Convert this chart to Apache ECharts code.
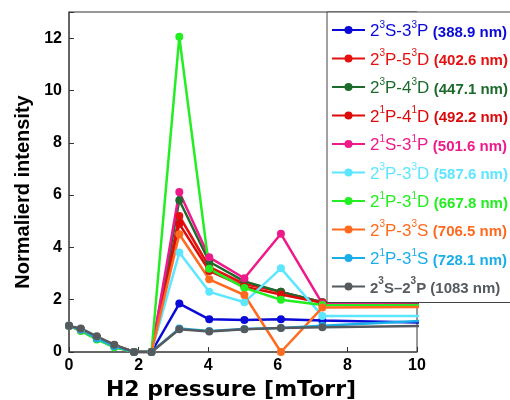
<!DOCTYPE html>
<html><head><meta charset="utf-8">
<script src="https://cdn.jsdelivr.net/npm/echarts@6/dist/echarts.min.js"></script>
<style>html,body{margin:0;padding:0;background:#fff}#c{width:510px;height:400px}</style>
</head><body><div id="c"></div>
<script>
const pressure = [0, 0.34, 0.8, 1.3, 1.87, 2.37, 3.17, 4.03, 5.04, 6.09, 7.28, 10.5];
const s3889 = [1, 0.85, 0.55, 0.25, 0, 0, 1.85, 1.25, 1.22, 1.25, 1.2, 1.12];
const s4026 = [1, 0.85, 0.55, 0.25, 0, 0, 5.2, 3.25, 2.6, 2.3, 1.9, 1.8];
const s4471 = [1, 0.85, 0.55, 0.25, 0, 0, 5.8, 3.45, 2.7, 2.3, 1.9, 1.82];
const s4922 = [1, 0.85, 0.55, 0.25, 0, 0, 4.9, 3.1, 2.5, 2.2, 1.88, 1.78];
const s5016 = [1, 0.82, 0.5, 0.2, 0, 0, 6.12, 3.62, 2.82, 4.52, 1.85, 1.8];
const s5876 = [1, 0.85, 0.5, 0.22, 0, 0, 3.8, 2.3, 1.9, 3.2, 1.38, 1.38];
const s6678 = [1, 0.8, 0.48, 0.18, 0, 0, 12.05, 3.18, 2.45, 2.0, 1.8, 1.78];
const s7065 = [1, 0.85, 0.55, 0.25, 0, 0, 4.5, 2.78, 2.18, 0, 1.7, 1.72];
const s7281 = [1, 0.85, 0.52, 0.22, 0, 0, 0.9, 0.8, 0.88, 0.92, 1.0, 1.22];
const s1083 = [1, 0.9, 0.6, 0.28, 0, 0, 0.87, 0.78, 0.87, 0.92, 0.95, 1.0];

const names = ['388.9','402.6','447.1','492.2','501.6','587.6','667.8','706.5','728.1','1083'];
// [sup1, letter1, n2, sup2, letter2]
const terms = [['3','S','3','3','P'],['3','P','5','3','D'],['3','P','4','3','D'],['1','P','4','1','D'],['1','S','3','1','P'],['3','P','3','3','D'],['1','P','3','1','D'],['3','P','3','3','S'],['1','P','3','1','S'],['3','S','2','3','P']];
const colors = ['#0a0ad8','#e51010','#1c6b2c','#dd0a0a','#ee1a8a','#5ce6ff','#22ee22','#ff6a1f','#1aaee8','#555a5f'];
const values = [s3889,s4026,s4471,s4922,s5016,s5876,s6678,s7065,s7281,s1083];

const series = names.map((n,i)=>({
  name:n, type:'line', clip:true,
  data: pressure.map((x,j)=>[x, values[i][j]]),
  symbol:'circle', symbolSize:8,
  lineStyle:{width:2.5,color:colors[i]}, itemStyle:{color:colors[i]}
}));

const chart = echarts.init(document.getElementById('c'));
chart.setOption({
  animation:false,
  textStyle:{fontFamily:'Liberation Sans'},
  grid:{left:69,right:93,top:12,bottom:48,show:true,borderColor:'#333',borderWidth:1,
    containLabel:false,outerBoundsMode:'none'},
  xAxis:{type:'value',min:0,max:10,interval:2,
    name:'H2 pressure [mTorr]',nameLocation:'middle',nameGap:23,
    nameTextStyle:{fontSize:22,fontWeight:'bold',color:'#000',fontFamily:'DejaVu Sans',padding:[0,24,0,0]},
    axisLine:{lineStyle:{color:'#555',width:1.5}},
    axisTick:{inside:true,length:5,lineStyle:{color:'#333'}},
    axisLabel:{fontSize:16,fontWeight:'bold',color:'#000',margin:6},
    splitLine:{show:false}},
  yAxis:{type:'value',min:0,max:13,interval:2,
    name:'Normalierd intensity',nameLocation:'middle',nameGap:29,
    nameTextStyle:{fontSize:20,fontWeight:'bold',color:'#000',padding:[0,20,0,0]},
    axisLine:{show:true,lineStyle:{color:'#555',width:1.5}},
    axisTick:{show:true,inside:true,length:5,lineStyle:{color:'#333'}},
    axisLabel:{fontSize:16,fontWeight:'bold',color:'#000',margin:7,
      formatter:v=> v>12 ? '' : v},
    splitLine:{show:false}},
  legend:{orient:'vertical',left:327,top:12,itemGap:8.5,itemWidth:33,itemHeight:10,
    padding:[8,60,6,4],borderColor:'#444',borderWidth:1,backgroundColor:'#fff',
    data:names.map((n,i)=>({name:n,textStyle:{color:colors[i]}})),
    formatter:function(n){
      const i = names.indexOf(n); const t = terms[i];
      if(i===9) return '{g|2}{gs|'+t[0]+'}{g|'+t[1]+'–'+t[2]+'}{gs|'+t[3]+'}{g|'+t[4]+' (1083 nm)}';
      return '{n|2}{s|'+t[0]+'}{n|'+t[1]+'-'+t[2]+'}{s|'+t[3]+'}{n|'+t[4]+'} {b|('+n+' nm)}';
    },
    textStyle:{fontSize:16,
      rich:{n:{fontSize:17,fontFamily:'Liberation Sans',lineHeight:20,verticalAlign:'bottom'},
            s:{fontSize:10,fontFamily:'Liberation Sans',lineHeight:20,verticalAlign:'top'},
            b:{fontSize:15,fontWeight:'bold',fontFamily:'Liberation Sans',lineHeight:20,verticalAlign:'bottom'},
            g:{fontSize:15,fontWeight:'bold',fontFamily:'Liberation Sans',lineHeight:20,verticalAlign:'bottom'},
            gs:{fontSize:10,fontWeight:'bold',fontFamily:'Liberation Sans',lineHeight:20,verticalAlign:'top'}}}
  },
  series:series
});
</script></body></html>
